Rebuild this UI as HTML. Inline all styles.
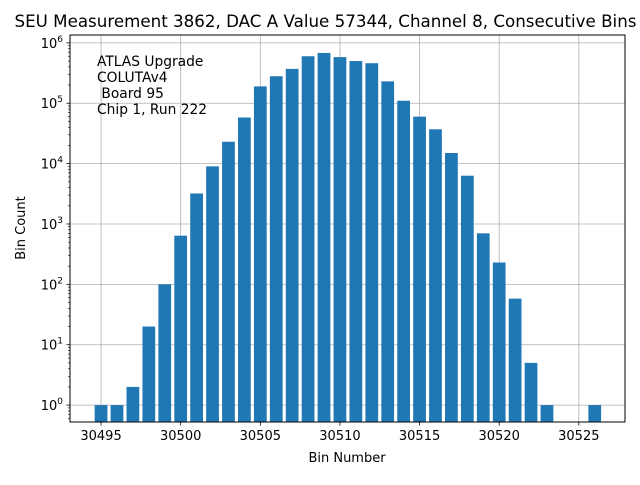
<!DOCTYPE html>
<html><head><meta charset="utf-8"><style>
body{margin:0;background:#fff;}
svg text{font-family:"DejaVu Sans","Liberation Sans",sans-serif;}
</style></head><body>
<svg id="c" width="640" height="480" xmlns="http://www.w3.org/2000/svg"></svg>
<script>
const bins = [30495,30496,30497,30498,30499,30500,30501,30502,30503,30504,30505,30506,30507,30508,30509,30510,30511,30512,30513,30514,30515,30516,30517,30518,30519,30520,30521,30522,30523,30526];
const counts = [1,1,2,20,100,640,3200,9000,23000,58000,190000,280000,370000,600000,680000,580000,500000,460000,230000,110000,60000,37000,15000,6300,700,230,58,5,1,1];
const xTicks = [30495,30500,30505,30510,30515,30520,30525];
const yExps = [0,1,2,3,4,5,6];
const title = "SEU Measurement 3862, DAC A Value 57344, Channel 8, Consecutive Bins";
const notes = ["ATLAS Upgrade","COLUTAv4"," Board 95","Chip 1, Run 222"];

const svg = document.getElementById('c');
const NS = "http://www.w3.org/2000/svg";
const L=70,R=625,T=35,B=422;
const xmin=30493.05,xmax=30527.9;
const ymin=-0.28,ymax=6.13;
const X=v=>L+(v-xmin)/(xmax-xmin)*(R-L);
const Y=v=>B-(Math.log10(v)-ymin)/(ymax-ymin)*(B-T);
function mk(tag,attrs,text){const e=document.createElementNS(NS,tag);for(const k in attrs)e.setAttribute(k,attrs[k]);if(text!==undefined)e.textContent=text;svg.appendChild(e);return e;}

xTicks.forEach(t=>{const e=mk('line',{x1:X(t),x2:X(t),y1:T,y2:B,stroke:'#b0b0b0','stroke-width':0.8});

});
yExps.forEach(p=>{const e=mk('line',{x1:L,x2:R,y1:Y(Math.pow(10,p)),y2:Y(Math.pow(10,p)),stroke:'#b0b0b0','stroke-width':0.8});

});

bins.forEach((b,i)=>{const x0=X(b-0.4),x1=X(b+0.4),y=Y(counts[i]);
const e=mk('rect',{x:x0,y:y,width:x1-x0,height:B-y,fill:'#1f77b4'});

});

const fr=mk('rect',{x:L,y:T,width:R-L,height:B-T,fill:'none',stroke:'#000','stroke-width':1});



xTicks.forEach(t=>{mk('line',{x1:X(t),x2:X(t),y1:B,y2:B+3.5,stroke:'#000','stroke-width':0.8});
const e=mk('text',{x:X(t),y:B+18,'font-size':13,'text-anchor':'middle'},String(t));

});
yExps.forEach(p=>{const y=Y(Math.pow(10,p));
mk('line',{x1:L-3.5,x2:L,y1:y,y2:y,stroke:'#000','stroke-width':0.8});
const e=mk('text',{x:L-7,y:y+5,'font-size':13,'text-anchor':'end'});


const a=document.createElementNS(NS,'tspan');a.textContent='10';e.appendChild(a);
const s=document.createElementNS(NS,'tspan');s.textContent=String(p);s.setAttribute('font-size','9');s.setAttribute('dy','-6');e.appendChild(s);
for(let m=2;m<10;m++){const v=m*Math.pow(10,p);const yy=Y(v);if(yy>=T&&yy<=B)mk('line',{x1:L-2,x2:L,y1:yy,y2:yy,stroke:'#000','stroke-width':0.6});}
});
for(let m=3;m<10;m++){const yy=Y(m/10);if(yy<=B)mk('line',{x1:L-2,x2:L,y1:yy,y2:yy,stroke:'#000','stroke-width':0.6});}

const tt=mk('text',{x:325.5,y:27,'font-size':16.7,'text-anchor':'middle'},title);


const xl=mk('text',{x:347,y:462,'font-size':13,'text-anchor':'middle'},'Bin Number');


const yl=mk('text',{x:25,y:228,'font-size':13,'text-anchor':'middle',transform:'rotate(-90 25 228)'},'Bin Count');


notes.forEach((n,i)=>{const e=mk('text',{x:97,y:66+i*16,'font-size':13.8},n);
e.setAttribute('xml:space','preserve');e.style.whiteSpace='pre';

});
</script>
</body></html>
